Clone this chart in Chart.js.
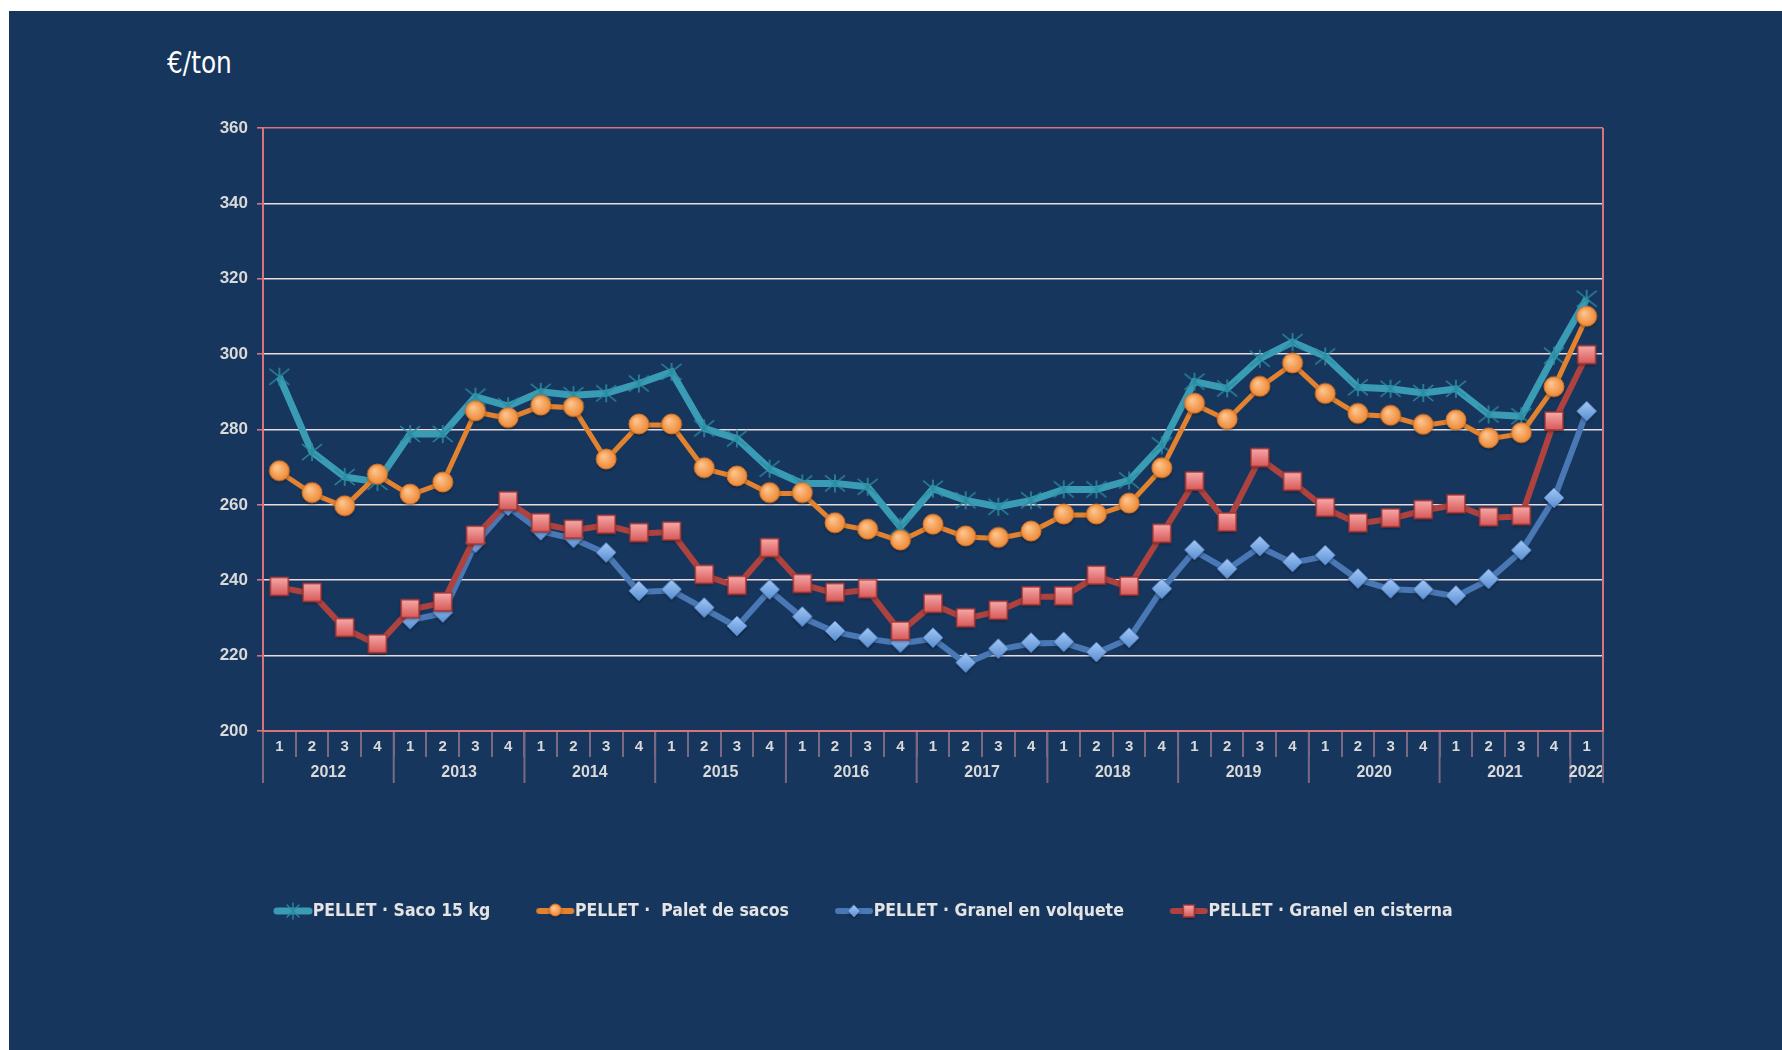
<!DOCTYPE html>
<html>
<head>
<meta charset="utf-8">
<script src="https://cdn.jsdelivr.net/npm/chart.js@4.4.1/dist/chart.umd.min.js"></script>
<style>
  html, body { margin: 0; padding: 0; background: #ffffff; }
  #fondo { position: absolute; left: 9px; top: 11px; right: 0; bottom: 0; background: #17365D; }
  #unidad { position: absolute; left: 167px; top: 48px; color: #ffffff; line-height: 1;
            font-family: 'DejaVu Sans', sans-serif; font-stretch: condensed; font-size: 30px;
            transform: scaleX(0.92); transform-origin: left top; }
  #caja { position: absolute; left: 0; top: 0; width: 1782px; height: 1050px; }
</style>
</head>
<body>
<div id="fondo"></div>
<div id="unidad">€/ton</div>
<div id="caja"><canvas id="grafico"></canvas></div>
<script>
const anios = ['2012', '2013', '2014', '2015', '2016', '2017', '2018', '2019', '2020', '2021', '2022'];
const trimestresPorAnio = [4, 4, 4, 4, 4, 4, 4, 4, 4, 4, 1];
const trimestres = ['1', '2', '3', '4', '1', '2', '3', '4', '1', '2', '3', '4', '1', '2', '3', '4',
    '1', '2', '3', '4', '1', '2', '3', '4', '1', '2', '3', '4', '1', '2', '3', '4',
    '1', '2', '3', '4', '1', '2', '3', '4', '1'];

const saco15 = [294, 274, 267.4, 266.1, 278.8, 278.8, 288.7, 286.2, 290, 289.1, 289.6, 292.2,
    295.3, 280.3, 277.6, 269.6, 265.7, 265.7, 264.8, 254.2, 264.3, 261.2, 259.5, 261.2,
    264.1, 264.1, 266.5, 275.8, 292.7, 290.9, 298.8, 303.2, 299.4, 291.2, 290.8, 289.7,
    290.8, 284, 283.5, 299.6, 314.7];
const paletSacos = [268.8, 263, 259.5, 267.9, 262.6, 265.8, 284.7, 282.9, 286.2, 285.8, 271.9, 281.2,
    281.2, 269.6, 267.4, 263, 263, 255, 253.3, 250.4, 254.6, 251.5, 251.1, 252.8,
    257.3, 257.3, 260.2, 269.6, 286.7, 282.5, 291.2, 297.4, 289.3, 284, 283.5, 281.1,
    282.3, 277.5, 278.9, 291.1, 309.8];
const granelVolquete = [null, null, null, null, 229.4, 231.2, 249.7, 259.5, 253, 251, 247.1, 236.9,
    237.3, 232.5, 227.6, 237.3, 230.1, 226.3, 224.5, 223.2, 224.5, 217.9, 221.6, 223.2,
    223.4, 220.7, 224.5, 237.5, 247.8, 242.8, 248.8, 244.6, 246.4, 240.2, 237.6, 237.3,
    235.7, 240.1, 247.7, 261.6, 284.6];
const granelCisterna = [238.1, 236.5, 227.2, 222.9, 232.2, 234, 251.7, 260.8, 255, 253.3, 254.6, 252.4,
    252.8, 241.3, 238.4, 248.4, 238.9, 236.5, 237.5, 226.3, 233.6, 229.8, 231.8, 235.6,
    235.6, 241.1, 238.2, 252.2, 266.1, 255.2, 272.3, 266, 259.1, 255, 256.3, 258.5,
    260, 256.6, 256.9, 282, 299.6];

const rosa = '#D9737C';
const gris = '#D9D9D9';
const fuenteTicks = "'Liberation Sans', Arial, sans-serif";
const fuenteLeyenda = "'DejaVu Sans', sans-serif";
const tamLeyenda = 17.5;

// marcadores dibujados en pequeños canvas
function lienzo(w, h) {
    const c = document.createElement('canvas');
    c.width = w; c.height = h;
    return c;
}

function estrella(w, h, cx, cy, r, color) {
    const c = lienzo(w, h), g = c.getContext('2d');
    g.strokeStyle = color; g.lineWidth = 1.6;
    g.beginPath();
    g.moveTo(cx - r, cy - r * 0.8); g.lineTo(cx + r, cy + r * 0.8);
    g.moveTo(cx - r, cy + r * 0.8); g.lineTo(cx + r, cy - r * 0.8);
    g.moveTo(cx, cy - r * 0.9); g.lineTo(cx, cy + r * 0.9);
    g.stroke();
    return c;
}

function circulo(g, cx, cy, r) {
    g.save();
    g.shadowColor = 'rgba(0,0,0,0.45)'; g.shadowBlur = 3; g.shadowOffsetY = 1.5;
    const gr = g.createRadialGradient(cx - r * 0.3, cy - r * 0.35, 1, cx, cy, r);
    gr.addColorStop(0, '#FDC48E'); gr.addColorStop(1, '#EE8A36');
    g.fillStyle = gr;
    g.beginPath(); g.arc(cx, cy, r, 0, Math.PI * 2); g.fill();
    g.restore();
    g.strokeStyle = '#D7762B'; g.lineWidth = 1;
    g.beginPath(); g.arc(cx, cy, r, 0, Math.PI * 2); g.stroke();
}

function rombo(g, cx, cy, r) {
    g.save();
    g.shadowColor = 'rgba(0,0,0,0.45)'; g.shadowBlur = 3; g.shadowOffsetY = 1.5;
    const gr = g.createLinearGradient(0, cy - r, 0, cy + r);
    gr.addColorStop(0, '#A3C8F4'); gr.addColorStop(1, '#5A8ED3');
    g.fillStyle = gr;
    g.beginPath();
    g.moveTo(cx, cy - r); g.lineTo(cx + r, cy); g.lineTo(cx, cy + r); g.lineTo(cx - r, cy);
    g.closePath(); g.fill();
    g.restore();
    g.strokeStyle = '#4C7DBE'; g.lineWidth = 1;
    g.stroke();
}

function cuadrado(g, cx, cy, w, h) {
    g.save();
    g.shadowColor = 'rgba(0,0,0,0.45)'; g.shadowBlur = 3; g.shadowOffsetY = 1.5;
    const gr = g.createLinearGradient(0, cy - h / 2, 0, cy + h / 2);
    gr.addColorStop(0, '#F6AAA9'); gr.addColorStop(1, '#D85858');
    g.fillStyle = gr;
    g.fillRect(cx - w / 2, cy - h / 2, w, h);
    g.restore();
    g.strokeStyle = '#9F3432'; g.lineWidth = 1.4;
    g.strokeRect(cx - w / 2, cy - h / 2, w, h);
}

const mTeal = estrella(26, 26, 13, 13, 10, '#2B8CA1');
const mNaranja = lienzo(26, 26); circulo(mNaranja.getContext('2d'), 13, 12, 10);
const mAzul = lienzo(26, 26); rombo(mAzul.getContext('2d'), 13, 12, 10);
const mRojo = lienzo(26, 26); cuadrado(mRojo.getContext('2d'), 13, 12, 18, 18);

function muestra(color, grosor, dibujar) {
    const c = lienzo(40, 20), g = c.getContext('2d');
    g.strokeStyle = color; g.lineWidth = grosor; g.lineCap = 'round';
    g.beginPath(); g.moveTo(4, 10); g.lineTo(36, 10); g.stroke();
    dibujar(g);
    return c;
}

const muestras = [
    muestra('#3A9CB4', 7, g => {
        g.strokeStyle = '#2B8CA1'; g.lineWidth = 1.3;
        g.beginPath();
        g.moveTo(14, 4); g.lineTo(26, 16); g.moveTo(14, 16); g.lineTo(26, 4);
        g.moveTo(20, 2); g.lineTo(20, 18);
        g.stroke();
    }),
    muestra('#E3822F', 6, g => circulo(g, 20, 9, 6)),
    muestra('#4A78B4', 6, g => rombo(g, 20, 10, 6)),
    muestra('#AE423F', 6, g => cuadrado(g, 20, 10, 11, 12))
];

const extras = {
    id: 'extras',
    afterLayout(chart) {
        // leyenda colocada como en el original
        const lg = chart.legend;
        const p = lg.options.labels.padding;
        lg.left = 282 - p;
        lg.top = 911 - tamLeyenda / 2 - p;
        lg.right = 1780;
        lg.bottom = lg.top + 120;
    },
    afterDraw(chart) {
        const {ctx, chartArea, scales: {x}} = chart;
        const paso = x.getPixelForValue(1) - x.getPixelForValue(0);
        ctx.save();
        // borde derecho
        ctx.strokeStyle = rosa; ctx.lineWidth = 2;
        ctx.beginPath();
        ctx.moveTo(chartArea.right, chartArea.top); ctx.lineTo(chartArea.right, chartArea.bottom);
        ctx.stroke();
        // separadores y años
        ctx.strokeStyle = '#7B6883'; ctx.lineWidth = 2;
        ctx.fillStyle = gris;
        ctx.font = 'bold 16px ' + fuenteTicks;
        ctx.textAlign = 'center'; ctx.textBaseline = 'middle';
        let inicio = 0;
        anios.forEach((a, k) => {
            const n = trimestresPorAnio[k];
            const x0 = x.getPixelForValue(inicio) - paso / 2;
            ctx.beginPath(); ctx.moveTo(x0, chartArea.bottom + 1); ctx.lineTo(x0, chartArea.bottom + 52); ctx.stroke();
            const xc = (x.getPixelForValue(inicio) + x.getPixelForValue(inicio + n - 1)) / 2;
            ctx.fillText(a, xc, chartArea.bottom + 42);
            inicio += n;
        });
        ctx.beginPath(); ctx.moveTo(chartArea.right, chartArea.bottom + 1); ctx.lineTo(chartArea.right, chartArea.bottom + 52); ctx.stroke();
        ctx.restore();
    }
};

const ctx = document.getElementById('grafico').getContext('2d');
const grafico = new Chart(ctx, {
    type: 'line',
    data: {
        labels: trimestres,
        datasets: [{
            label: 'PELLET · Saco 15 kg',
            data: saco15,
            borderColor: '#3A9CB4',
            borderWidth: 7,
            pointStyle: mTeal,
            pointRadius: 6,
            order: 4
        }, {
            label: 'PELLET ·  Palet de sacos',
            data: paletSacos,
            borderColor: '#E3822F',
            borderWidth: 5,
            pointStyle: mNaranja,
            pointRadius: 6,
            order: 3
        }, {
            label: 'PELLET · Granel en volquete',
            data: granelVolquete,
            borderColor: '#4A78B4',
            borderWidth: 6,
            pointStyle: mAzul,
            pointRadius: 6,
            order: 2
        }, {
            label: 'PELLET · Granel en cisterna',
            data: granelCisterna,
            borderColor: '#AE423F',
            borderWidth: 6,
            pointStyle: mRojo,
            pointRadius: 6,
            order: 1
        }]
    },
    options: {
        responsive: true,
        maintainAspectRatio: false,
        animation: false,
        layout: {
            padding: { left: 200, right: 179, top: 128, bottom: 179 }
        },
        scales: {
            x: {
                offset: true,
                afterFit: s => { s.height = 60; },
                border: { color: rosa, width: 2 },
                grid: {
                    offset: true,
                    drawOnChartArea: false,
                    color: '#7B6883',
                    lineWidth: 2,
                    tickLength: 26
                },
                ticks: {
                    color: gris,
                    padding: -19,
                    maxRotation: 0,
                    autoSkip: false,
                    font: { family: fuenteTicks, size: 15, weight: 'bold' }
                }
            },
            y: {
                min: 200,
                max: 360,
                afterFit: s => { s.width = 63; },
                border: { color: rosa, width: 2 },
                grid: {
                    color: c => c.tick && c.tick.value === 360 ? rosa : '#E9DCDC',
                    lineWidth: 1.6,
                    tickColor: rosa,
                    tickLength: 6
                },
                ticks: {
                    stepSize: 20,
                    color: gris,
                    padding: 9,
                    font: { family: fuenteTicks, size: 17, weight: 'bold' }
                }
            }
        },
        plugins: {
            tooltip: { enabled: false },
            legend: {
                position: 'bottom',
                align: 'start',
                maxHeight: 80,
                labels: {
                    usePointStyle: true,
                    pointStyleWidth: 22,
                    padding: 54,
                    color: '#E4E4E4',
                    font: { family: fuenteLeyenda, size: tamLeyenda, weight: 'bold condensed' },
                    sort: (a, b) => a.datasetIndex - b.datasetIndex,
                    generateLabels: chart => Chart.defaults.plugins.legend.labels.generateLabels(chart)
                        .map(l => Object.assign(l, { pointStyle: muestras[l.datasetIndex] }))
                }
            }
        }
    },
    plugins: [extras]
});
</script>
</body>
</html>
